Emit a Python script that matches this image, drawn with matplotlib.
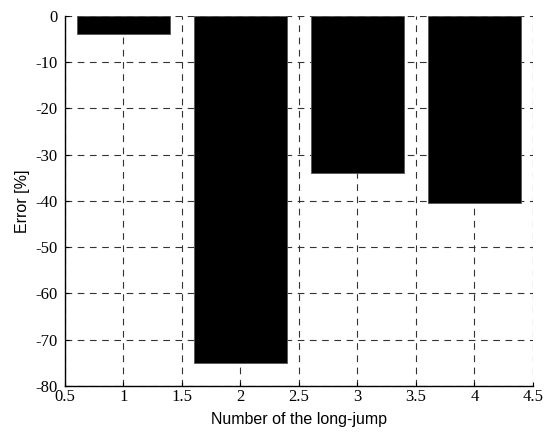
import matplotlib
matplotlib.use('Agg')
import matplotlib.pyplot as plt

plt.rcParams['font.family'] = 'serif'
plt.rcParams['font.serif'] = ['Liberation Serif', 'DejaVu Serif']

# long-jump number and relative error of each jump
jumps = [1, 2, 3, 4]
error_pct = [-3.8, -75.1, -34.0, -40.5]

x_ticks = [0.5, 1, 1.5, 2, 2.5, 3, 3.5, 4, 4.5]
x_labels = ['0.5', '1', '1.5', '2', '2.5', '3', '3.5', '4', '4.5']
y_ticks = [0, -10, -20, -30, -40, -50, -60, -70, -80]

fig = plt.figure(figsize=(5.45, 4.32), dpi=100)
ax = fig.add_axes([0.119, 0.1065, 0.859, 0.8565])

ax.bar(jumps, error_pct, width=0.8, color='black', edgecolor='#555555',
       linewidth=0.6, zorder=3)

ax.set_xlim(0.5, 4.5)
ax.set_ylim(-80, 0)
ax.set_xticks(x_ticks)
ax.set_xticklabels(x_labels)
ax.set_yticks(y_ticks)
ax.set_yticklabels([str(v) for v in y_ticks])
for lbl in ax.get_xticklabels() + ax.get_yticklabels():
    lbl.set_fontfamily('Liberation Serif')
    lbl.set_fontsize(12)

ax.tick_params(axis='x', direction='in', length=3, width=0.8, pad=2)
ax.tick_params(axis='y', direction='in', length=3, width=0.8, pad=5)
ax.grid(True, linestyle=(0, (6, 5)), color='#333333', linewidth=0.8, zorder=0)
ax.set_axisbelow(True)

for side in ['top', 'right']:
    ax.spines[side].set_visible(False)
for side in ['left', 'bottom']:
    ax.spines[side].set_linewidth(1.0)
    ax.spines[side].set_zorder(4)

ax.set_xlabel('Number of the long-jump', family='Liberation Sans', fontsize=11.5, labelpad=5)
ax.set_ylabel('Error [%]', family='Liberation Sans', fontsize=11.5, labelpad=4)

fig.savefig('out.png', dpi=100)
